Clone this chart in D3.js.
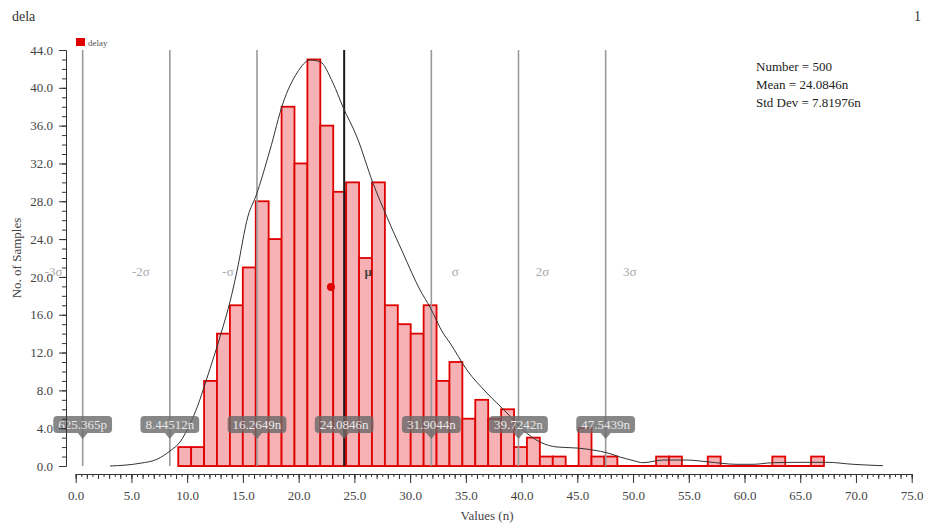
<!DOCTYPE html>
<html>
<head>
<meta charset="utf-8">
<script src="https://cdn.jsdelivr.net/npm/d3@7"></script>
<style>
  body { margin: 0; background: #fff; }
  svg { display: block; }
  text { font-family: "Liberation Serif", "DejaVu Serif", serif; }
</style>
</head>
<body>
<svg id="chart" width="925" height="523"></svg>
<script>
// ---------- data ----------
const title = "dela";
const pageNo = "1";
const seriesName = "delay";
const binStart = 9.20;
const binWidth = 1.1586;
const binCounts = [2, 2, 9, 14, 17, 21, 28, 24, 38, 32,
                   43, 36, 29, 30, 22, 30, 17, 15, 14, 17,
                   9, 11, 5, 7, 5, 6, 2, 3, 1, 1,
                   0, 4, 1, 1, 0, 0, 0, 1, 1, 0,
                   0, 1, 0, 0, 0, 0, 1, 0, 0, 1];
const curveX = [3.08, 5.77, 7.29, 8.46, 9.36, 10.25, 10.97, 11.60, 12.50, 13.21,
                13.84, 14.47, 15.46, 16.17, 17.43, 18.60, 19.85, 21.02, 21.92, 23.08,
                23.98, 25.23, 26.67, 27.92, 29.36, 30.89, 31.78, 32.95, 33.58, 35.10,
                36.89, 38.69, 40.13, 41.65, 43.18, 44.97, 46.41, 47.75, 48.83, 50.0,
                50.89, 52.69, 54.84, 56.63, 59.32, 60.76, 62.55, 65.25, 67.40, 69.73, 72.42];
const curveY = [0, 0.29, 0.71, 1.59, 2.54, 4.44, 6.45, 8.67, 11.95, 14.70,
                17.35, 20.63, 26.44, 28.56, 33.42, 38.39, 41.57, 42.94, 42.76, 40.51,
                37.97, 34.80, 29.93, 26.34, 22.53, 18.62, 16.82, 14.07, 13.01, 10.15,
                7.72, 5.61, 3.81, 2.54, 2.01, 1.90, 1.69, 1.37, 0.95, 0.58,
                0.35, 0.63, 0.63, 0.45, 0.18, 0.18, 0.35, 0.39, 0.39, 0.18, 0.03];
const sigmaValues = [0.625365, 8.44512, 16.2649, 24.0846, 31.9044, 39.7242, 47.5439];
const sigmaValueLabels = ["625.365p", "8.44512n", "16.2649n", "24.0846n", "31.9044n", "39.7242n", "47.5439n"];
const sigmaNames = ["-3σ", "-2σ", "-σ", "μ", "σ", "2σ", "3σ"];
const markerPoint = [22.90, 18.93];
const statsLines = ["Number = 500", "Mean = 24.0846n", "Std Dev = 7.81976n"];
const xTickValues = [0, 5, 10, 15, 20, 25, 30, 35, 40, 45, 50, 55, 60, 65, 70, 75];
const yTickValues = [0, 4, 8, 12, 16, 20, 24, 28, 32, 36, 40, 44];
const xTitle = "Values (n)";
const yTitle = "No. of Samples";

// ---------- layout ----------
const svg = d3.select("#chart");
const x = d3.scaleLinear().domain([0, 75]).range([75.7, 911.7]);
const y = d3.scaleLinear().domain([0, 44]).range([466, 50]);
const xAxisY = 474;
const yAxisX = 66;

// title / page number
svg.append("text").attr("x", 12).attr("y", 21).attr("font-size", 14)
  .attr("fill", "#333").text(title);
svg.append("text").attr("x", 921).attr("y", 21).attr("font-size", 14)
  .attr("text-anchor", "end").attr("fill", "#333").text(pageNo);

// legend
svg.append("rect").attr("x", 76).attr("y", 38).attr("width", 9).attr("height", 8).attr("fill", "#e00000");
svg.append("text").attr("x", 88).attr("y", 46).attr("font-size", 9)
  .attr("font-family", "Liberation Sans, Arial, sans-serif").attr("fill", "#555").text(seriesName);

// stats
svg.append("g").selectAll("text").data(statsLines).join("text")
  .attr("x", 756).attr("y", (d, i) => 71 + i * 18)
  .attr("font-size", 13).attr("fill", "#222").text(d => d);

// histogram
const bins = binCounts.map((c, i) => ({x0: binStart + i * binWidth, x1: binStart + (i + 1) * binWidth, c}));
svg.append("line")
  .attr("x1", x(bins[0].x0)).attr("x2", x(bins[bins.length - 1].x1))
  .attr("y1", y(0)).attr("y2", y(0))
  .attr("stroke", "#e00000").attr("stroke-width", 1.8);
svg.append("g").selectAll("rect").data(bins.filter(b => b.c > 0)).join("rect")
  .attr("x", d => x(d.x0)).attr("width", d => x(d.x1) - x(d.x0))
  .attr("y", d => y(d.c)).attr("height", d => y(0) - y(d.c))
  .attr("fill", "#f5b1b3").attr("stroke", "#e00000").attr("stroke-width", 1.8);

// sigma lines
svg.append("g").selectAll("line").data(sigmaValues).join("line")
  .attr("x1", d => x(d)).attr("x2", d => x(d))
  .attr("y1", y(44)).attr("y2", y(0))
  .attr("stroke", (d, i) => i === 3 ? "#1a1a1a" : "#9a9a9a")
  .attr("stroke-width", (d, i) => i === 3 ? 2 : 1.6);

// sigma names
svg.append("g").selectAll("text").data(sigmaNames).join("text")
  .attr("x", (d, i) => x(sigmaValues[i]) + (i < 3 ? -29 : 24))
  .attr("y", 276)
  .attr("text-anchor", "middle")
  .attr("font-size", 13)
  .attr("fill", (d, i) => i === 3 ? "#444" : "#aaa")
  .attr("font-weight", (d, i) => i === 3 ? "bold" : "normal")
  .text(d => d);

// density curve
const line = d3.line().x(d => x(d[0])).y(d => y(d[1])).curve(d3.curveMonotoneX);
svg.append("path").datum(curveX.map((v, i) => [v, curveY[i]]))
  .attr("d", line).attr("fill", "none").attr("stroke", "#333").attr("stroke-width", 1);

// marker
svg.append("circle").attr("cx", x(markerPoint[0])).attr("cy", y(markerPoint[1])).attr("r", 4)
  .attr("fill", "#e00000");

// value labels
const lab = svg.append("g").selectAll("g").data(sigmaValues).join("g")
  .attr("transform", d => `translate(${x(d)},0)`);
lab.append("text")
  .attr("class", "vl")
  .attr("y", 429).attr("text-anchor", "middle").attr("font-size", 13)
  .attr("fill", "#e8e8e8")
  .text((d, i) => sigmaValueLabels[i]);
lab.each(function() {
  const g = d3.select(this);
  const t = g.select("text");
  const w = t.node().getComputedTextLength() + 10;
  g.insert("path", "text")
    .attr("d", `M${-w/2 + 4},416 H${w/2 - 4} Q${w/2},416 ${w/2},420 V429 Q${w/2},433 ${w/2 - 4},433 H5 L0,439 L-5,433 H${-w/2 + 4} Q${-w/2},433 ${-w/2},429 V420 Q${-w/2},416 ${-w/2 + 4},416 Z`)
    .attr("fill", "rgba(105,105,105,0.8)");
});

// x axis
const xg = svg.append("g").attr("transform", `translate(0,${xAxisY})`);
xg.append("g").call(d3.axisBottom(x).tickValues(d3.range(0, 75.01, 0.5)).tickSize(3).tickFormat("").tickSizeOuter(0));
xg.append("g").call(d3.axisBottom(x).tickValues(d3.range(0, 75.01, 1)).tickSize(5).tickFormat("").tickSizeOuter(0));
xg.append("g").call(d3.axisBottom(x).tickValues(xTickValues).tickSize(9).tickFormat(d3.format(".1f")).tickSizeOuter(0).tickPadding(8));
xg.selectAll("path, line").attr("stroke", "#333");
xg.selectAll("text").attr("font-size", 13).attr("fill", "#444")
  .attr("font-family", "Liberation Serif, DejaVu Serif, serif");

// y axis
const yg = svg.append("g").attr("transform", `translate(${yAxisX},0)`);
yg.append("g").call(d3.axisLeft(y).tickValues(d3.range(0, 44.01, 1)).tickSize(4).tickFormat("").tickSizeOuter(0));
yg.append("g").call(d3.axisLeft(y).tickValues(yTickValues).tickSize(7).tickFormat(d3.format(".1f")).tickSizeOuter(0).tickPadding(6));
yg.selectAll("path, line").attr("stroke", "#333");
yg.selectAll("text").attr("font-size", 13).attr("fill", "#444")
  .attr("font-family", "Liberation Serif, DejaVu Serif, serif");

// axis titles
svg.append("text").attr("x", 487).attr("y", 520).attr("text-anchor", "middle")
  .attr("font-size", 13).attr("fill", "#444").text(xTitle);
svg.append("text").attr("transform", "translate(21,258) rotate(-90)").attr("text-anchor", "middle")
  .attr("font-size", 13).attr("fill", "#444").text(yTitle);
</script>
</body>
</html>
